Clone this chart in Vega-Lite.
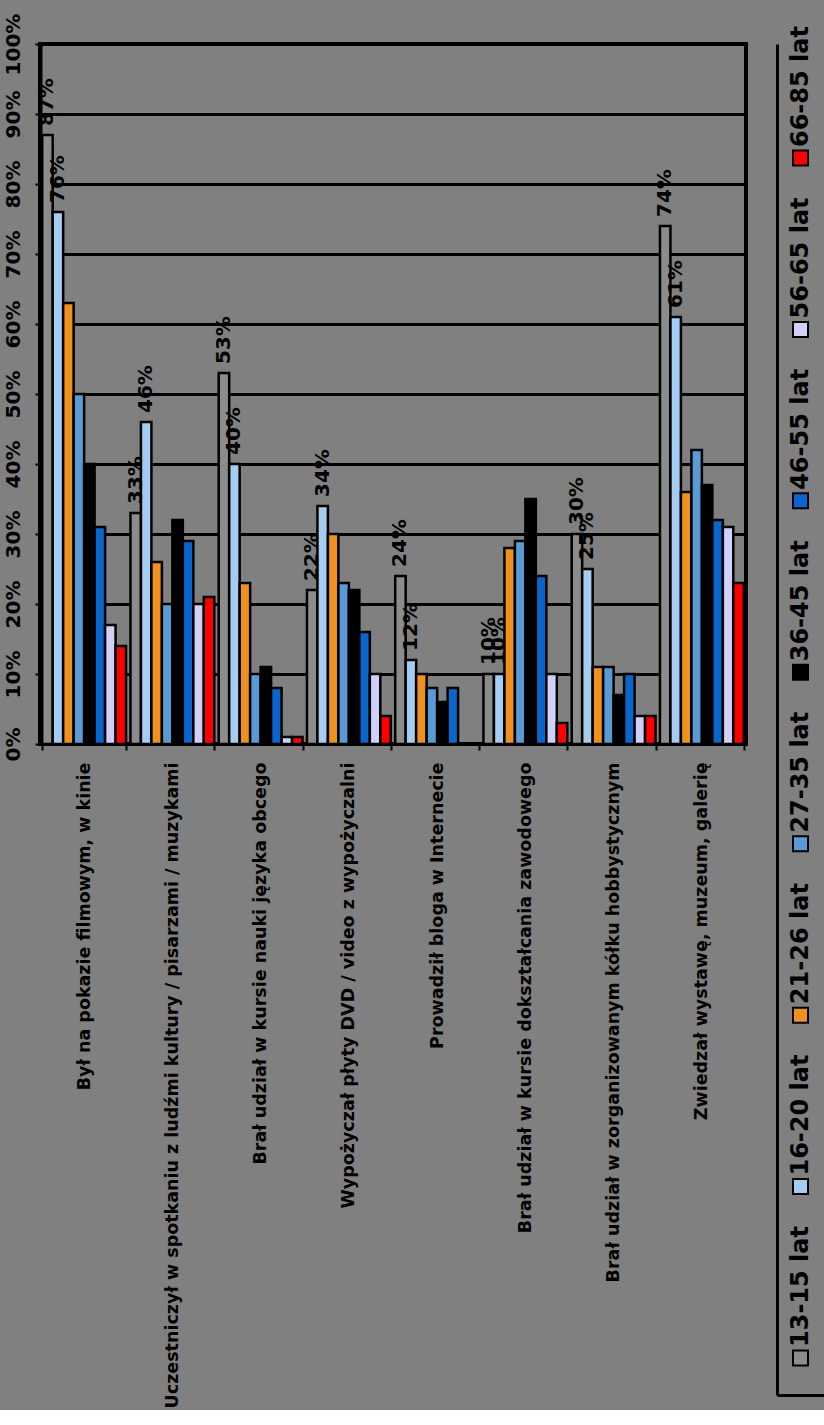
{
  "$schema": "https://vega.github.io/schema/vega-lite/v6.json",
  "background": "#808080",
  "padding": {"top": 11, "left": 0, "right": 0, "bottom": 0},
  "spacing": 29,
  "config": {
    "font": "DejaVu Sans",
    "axis": {"labelFont": "DejaVu Sans", "labelFontWeight": "bold", "labelColor": "black"},
    "view": {"stroke": null}
  },
  "datasets": {
    "bars": [
      {"cat": "Był na pokazie filmowym, w kinie", "series": "13-15 lat", "value": 0.87},
      {"cat": "Był na pokazie filmowym, w kinie", "series": "16-20 lat", "value": 0.76},
      {"cat": "Był na pokazie filmowym, w kinie", "series": "21-26 lat", "value": 0.63},
      {"cat": "Był na pokazie filmowym, w kinie", "series": "27-35 lat", "value": 0.50},
      {"cat": "Był na pokazie filmowym, w kinie", "series": "36-45 lat", "value": 0.40},
      {"cat": "Był na pokazie filmowym, w kinie", "series": "46-55 lat", "value": 0.31},
      {"cat": "Był na pokazie filmowym, w kinie", "series": "56-65 lat", "value": 0.17},
      {"cat": "Był na pokazie filmowym, w kinie", "series": "66-85 lat", "value": 0.14},
      {"cat": "Uczestniczył w spotkaniu z ludźmi kultury / pisarzami / muzykami", "series": "13-15 lat", "value": 0.33},
      {"cat": "Uczestniczył w spotkaniu z ludźmi kultury / pisarzami / muzykami", "series": "16-20 lat", "value": 0.46},
      {"cat": "Uczestniczył w spotkaniu z ludźmi kultury / pisarzami / muzykami", "series": "21-26 lat", "value": 0.26},
      {"cat": "Uczestniczył w spotkaniu z ludźmi kultury / pisarzami / muzykami", "series": "27-35 lat", "value": 0.20},
      {"cat": "Uczestniczył w spotkaniu z ludźmi kultury / pisarzami / muzykami", "series": "36-45 lat", "value": 0.32},
      {"cat": "Uczestniczył w spotkaniu z ludźmi kultury / pisarzami / muzykami", "series": "46-55 lat", "value": 0.29},
      {"cat": "Uczestniczył w spotkaniu z ludźmi kultury / pisarzami / muzykami", "series": "56-65 lat", "value": 0.20},
      {"cat": "Uczestniczył w spotkaniu z ludźmi kultury / pisarzami / muzykami", "series": "66-85 lat", "value": 0.21},
      {"cat": "Brał udział w kursie nauki języka obcego", "series": "13-15 lat", "value": 0.53},
      {"cat": "Brał udział w kursie nauki języka obcego", "series": "16-20 lat", "value": 0.40},
      {"cat": "Brał udział w kursie nauki języka obcego", "series": "21-26 lat", "value": 0.23},
      {"cat": "Brał udział w kursie nauki języka obcego", "series": "27-35 lat", "value": 0.10},
      {"cat": "Brał udział w kursie nauki języka obcego", "series": "36-45 lat", "value": 0.11},
      {"cat": "Brał udział w kursie nauki języka obcego", "series": "46-55 lat", "value": 0.08},
      {"cat": "Brał udział w kursie nauki języka obcego", "series": "56-65 lat", "value": 0.01},
      {"cat": "Brał udział w kursie nauki języka obcego", "series": "66-85 lat", "value": 0.01},
      {"cat": "Wypożyczał płyty DVD / video z wypożyczalni", "series": "13-15 lat", "value": 0.22},
      {"cat": "Wypożyczał płyty DVD / video z wypożyczalni", "series": "16-20 lat", "value": 0.34},
      {"cat": "Wypożyczał płyty DVD / video z wypożyczalni", "series": "21-26 lat", "value": 0.30},
      {"cat": "Wypożyczał płyty DVD / video z wypożyczalni", "series": "27-35 lat", "value": 0.23},
      {"cat": "Wypożyczał płyty DVD / video z wypożyczalni", "series": "36-45 lat", "value": 0.22},
      {"cat": "Wypożyczał płyty DVD / video z wypożyczalni", "series": "46-55 lat", "value": 0.16},
      {"cat": "Wypożyczał płyty DVD / video z wypożyczalni", "series": "56-65 lat", "value": 0.10},
      {"cat": "Wypożyczał płyty DVD / video z wypożyczalni", "series": "66-85 lat", "value": 0.04},
      {"cat": "Prowadził bloga w Internecie", "series": "13-15 lat", "value": 0.24},
      {"cat": "Prowadził bloga w Internecie", "series": "16-20 lat", "value": 0.12},
      {"cat": "Prowadził bloga w Internecie", "series": "21-26 lat", "value": 0.10},
      {"cat": "Prowadził bloga w Internecie", "series": "27-35 lat", "value": 0.08},
      {"cat": "Prowadził bloga w Internecie", "series": "36-45 lat", "value": 0.06},
      {"cat": "Prowadził bloga w Internecie", "series": "46-55 lat", "value": 0.08},
      {"cat": "Prowadził bloga w Internecie", "series": "56-65 lat", "value": 0},
      {"cat": "Prowadził bloga w Internecie", "series": "66-85 lat", "value": 0},
      {"cat": "Brał udział w kursie dokształcania zawodowego", "series": "13-15 lat", "value": 0.10},
      {"cat": "Brał udział w kursie dokształcania zawodowego", "series": "16-20 lat", "value": 0.10},
      {"cat": "Brał udział w kursie dokształcania zawodowego", "series": "21-26 lat", "value": 0.28},
      {"cat": "Brał udział w kursie dokształcania zawodowego", "series": "27-35 lat", "value": 0.29},
      {"cat": "Brał udział w kursie dokształcania zawodowego", "series": "36-45 lat", "value": 0.35},
      {"cat": "Brał udział w kursie dokształcania zawodowego", "series": "46-55 lat", "value": 0.24},
      {"cat": "Brał udział w kursie dokształcania zawodowego", "series": "56-65 lat", "value": 0.10},
      {"cat": "Brał udział w kursie dokształcania zawodowego", "series": "66-85 lat", "value": 0.03},
      {"cat": "Brał udział w zorganizowanym kółku hobbystycznym", "series": "13-15 lat", "value": 0.30},
      {"cat": "Brał udział w zorganizowanym kółku hobbystycznym", "series": "16-20 lat", "value": 0.25},
      {"cat": "Brał udział w zorganizowanym kółku hobbystycznym", "series": "21-26 lat", "value": 0.11},
      {"cat": "Brał udział w zorganizowanym kółku hobbystycznym", "series": "27-35 lat", "value": 0.11},
      {"cat": "Brał udział w zorganizowanym kółku hobbystycznym", "series": "36-45 lat", "value": 0.07},
      {"cat": "Brał udział w zorganizowanym kółku hobbystycznym", "series": "46-55 lat", "value": 0.10},
      {"cat": "Brał udział w zorganizowanym kółku hobbystycznym", "series": "56-65 lat", "value": 0.04},
      {"cat": "Brał udział w zorganizowanym kółku hobbystycznym", "series": "66-85 lat", "value": 0.04},
      {"cat": "Zwiedzał wystawę, muzeum, galerię", "series": "13-15 lat", "value": 0.74},
      {"cat": "Zwiedzał wystawę, muzeum, galerię", "series": "16-20 lat", "value": 0.61},
      {"cat": "Zwiedzał wystawę, muzeum, galerię", "series": "21-26 lat", "value": 0.36},
      {"cat": "Zwiedzał wystawę, muzeum, galerię", "series": "27-35 lat", "value": 0.42},
      {"cat": "Zwiedzał wystawę, muzeum, galerię", "series": "36-45 lat", "value": 0.37},
      {"cat": "Zwiedzał wystawę, muzeum, galerię", "series": "46-55 lat", "value": 0.32},
      {"cat": "Zwiedzał wystawę, muzeum, galerię", "series": "56-65 lat", "value": 0.31},
      {"cat": "Zwiedzał wystawę, muzeum, galerię", "series": "66-85 lat", "value": 0.23}
    ],
    "series": [
      {"series": "13-15 lat"}, {"series": "16-20 lat"}, {"series": "21-26 lat"}, {"series": "27-35 lat"},
      {"series": "36-45 lat"}, {"series": "46-55 lat"}, {"series": "56-65 lat"}, {"series": "66-85 lat"}
    ]
  },
  "hconcat": [
    {
      "width": 706,
      "height": 700,
      "view": {"stroke": "black", "strokeWidth": 4},
      "data": {"name": "bars"},
      "encoding": {
        "x": {
          "field": "cat", "type": "nominal", "sort": null,
          "scale": {"paddingInner": 0.05, "paddingOuter": 0.025},
          "axis": {"title": null, "labelAngle": 270, "labelFontSize": 17.5, "labelLimit": 700, "labelPadding": 12,
                   "tickBand": "extent", "tickSize": 6, "tickColor": "black", "tickWidth": 2,
                   "domainColor": "black", "domainWidth": 3}
        },
        "xOffset": {"field": "series", "type": "nominal",
          "sort": ["13-15 lat", "16-20 lat", "21-26 lat", "27-35 lat", "36-45 lat", "46-55 lat", "56-65 lat", "66-85 lat"]},
        "y": {
          "field": "value", "type": "quantitative",
          "scale": {"domain": [0, 1]},
          "axis": {"title": null, "values": [0, 0.1, 0.2, 0.3, 0.4, 0.5, 0.6, 0.7, 0.8, 0.9, 1], "format": ".0%",
                   "labelAngle": 270, "labelAlign": "center", "labelBaseline": "bottom", "labelFontSize": 20, "labelPadding": 12,
                   "tickSize": 5, "tickColor": "black", "tickWidth": 2,
                   "grid": true, "gridColor": "black", "gridWidth": 3,
                   "domainColor": "black", "domainWidth": 4}
        }
      },
      "layer": [
        {
          "mark": {"type": "bar", "stroke": "black", "strokeWidth": 2.5},
          "encoding": {
            "color": {"field": "series", "type": "nominal",
              "scale": {"domain": ["13-15 lat", "16-20 lat", "21-26 lat", "27-35 lat", "36-45 lat", "46-55 lat", "56-65 lat", "66-85 lat"],
                        "range": ["#8c8c8c", "#a5cdf2", "#f0901f", "#5a9bd6", "#000000", "#0a66cc", "#d0d0fa", "#ff0000"]},
              "legend": null}
          }
        },
        {
          "transform": [{"filter": {"field": "series", "oneOf": ["13-15 lat", "16-20 lat"]}}],
          "mark": {"type": "text", "angle": 270, "align": "left", "baseline": "middle", "dx": 9, "fontSize": 20, "fontWeight": "bold", "color": "black"},
          "encoding": {"text": {"field": "value", "type": "quantitative", "format": ".0%"}}
        }
      ]
    },
    {
      "width": 47,
      "height": 1351,
      "data": {"name": "series"},
      "encoding": {
        "x": {"datum": 0, "type": "quantitative", "scale": {"domain": [-1, 1]},
              "axis": {"title": null, "labels": false, "ticks": false, "grid": false, "domainColor": "black", "domainWidth": 3}},
        "y": {"field": "series", "type": "nominal",
              "sort": ["66-85 lat", "56-65 lat", "46-55 lat", "36-45 lat", "27-35 lat", "21-26 lat", "16-20 lat", "13-15 lat"],
              "scale": {"type": "point", "padding": 0.4405, "align": 0.755},
              "axis": {"title": null, "labels": false, "ticks": false, "grid": false, "domainColor": "black", "domainWidth": 3}}
      },
      "layer": [
        {
          "mark": {"type": "square", "size": 225, "filled": true, "opacity": 1, "stroke": "black", "strokeWidth": 2},
          "encoding": {
            "color": {"field": "series", "type": "nominal",
              "scale": {"domain": ["13-15 lat", "16-20 lat", "21-26 lat", "27-35 lat", "36-45 lat", "46-55 lat", "56-65 lat", "66-85 lat"],
                        "range": ["#8c8c8c", "#a5cdf2", "#f0901f", "#5a9bd6", "#000000", "#0a66cc", "#d0d0fa", "#ff0000"]},
              "legend": null}
          }
        },
        {
          "mark": {"type": "text", "angle": 270, "align": "left", "baseline": "middle", "dx": 11, "fontSize": 24, "fontWeight": "bold", "color": "black"},
          "encoding": {"text": {"field": "series", "type": "nominal"}}
        }
      ]
    }
  ]
}
